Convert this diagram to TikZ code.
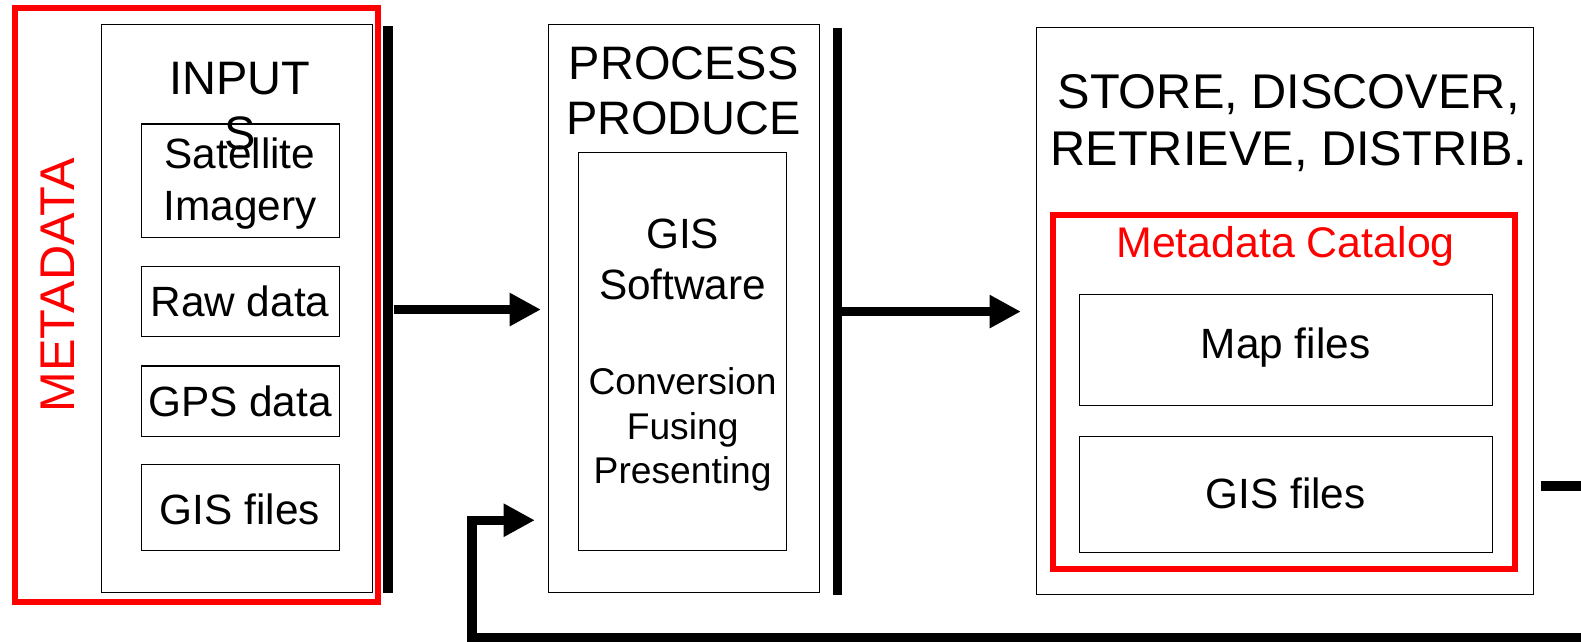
\documentclass[tikz,border=0pt]{standalone}
\usepackage{fontspec}
\setmainfont{Liberation Sans}
\usetikzlibrary{arrows.meta,fit}

\begin{document}
\begin{tikzpicture}[x=0.02cm, y=-0.02cm,
    box/.style={draw, line width=0.6pt, inner sep=0pt},
    redbox/.style={draw=red, line width=3.4pt, inner sep=0pt},
    bar/.style={fill=black, inner sep=0pt},
    flow/.style={line width=5.3pt, -{Triangle[length=0.62cm, width=0.62cm]}},
    heading/.style={align=center, font=\fontsize{26.5}{31}\selectfont},
    txt/.style={align=center, font=\fontsize{23.9}{29}\selectfont}]
  \useasboundingbox (0,0) rectangle (1568,636);
  \clip (0,0) rectangle (1568,636);

  % inputs
  \node[redbox, fit={(15,8) (375,597)}] (meta) {};
  \node[box, fit={(101,24) (369,588)}] (inputs) {};
  \node[heading] (inputstitle) at (238,105) {INPUT\\S};
  \node[red, rotate=90, font=\fontsize{27.5}{31}\selectfont] (metatext) at (57,283) {METADATA};
  \node[box, fit={(140,123) (337,236)}] (sat) {};
  \node[box, fit={(140,264) (337,334)}] (raw) {};
  \node[box, fit={(140,363) (337,433)}] (gps) {};
  \node[box, fit={(140,461) (337,546)}] (gisin) {};
  \node[txt] (sattext) at (238,182) {Satellite\\Imagery};
  \node[txt] (rawtext) at (238,299) {Raw data};
  \node[txt] (gpstext) at (238,398) {GPS data};
  \node[txt] (gisintext) at (238,505) {GIS files};
  \node[bar, fit={(380,26) (390,588)}] (bar1) {};

  % process
  \node[box, fit={(544,24) (813,588)}] (proc) {};
  \node[heading] (proctitle) at (678,90) {PROCESS\\PRODUCE};
  \node[box, fit={(574,151) (780,546)}] (soft) {};
  \node[txt] (softtext) at (677,257) {GIS\\Software};
  \node[txt, font=\fontsize{21}{25}\selectfont] (steps) at (677,426) {Conversion\\Fusing\\Presenting};
  \node[bar, fit={(826,28) (835,590)}] (bar2) {};

  % store
  \node[box, fit={(1028,27) (1521,590)}] (store) {};
  \node[heading, font=\fontsize{27.5}{32}\selectfont] (storetitle) at (1278,122) {STORE, DISCOVER,\\RETRIEVE, DISTRIB.};
  \node[redbox, fit={(1044,213) (1503,564)}] (cat) {};
  \node[red, font=\fontsize{24.2}{29}\selectfont] (cattext) at (1275,244) {Metadata Catalog};
  \node[box, fit={(1071,292) (1480,402)}] (map) {};
  \node[box, fit={(1071,433) (1480,548)}] (gisout) {};
  \node[txt] (maptext) at (1275,345) {Map files};
  \node[txt] (gisouttext) at (1275,489) {GIS files};

  % arrows
  \draw[flow, shorten >=0.14cm] (bar1.east) -- (bar1.east -| proc.west);
  \draw[flow, shorten >=0.3cm] (bar2.east) -- (bar2.east -| store.west);
  \coordinate (loop) at (1528,482);
  \draw[flow, shorten >=0.26cm] (loop) -- (1600,482) -- (1600,632) -- (468,632)
    |- ([yshift=-4.2cm]proc.west);
\end{tikzpicture}
\end{document}
